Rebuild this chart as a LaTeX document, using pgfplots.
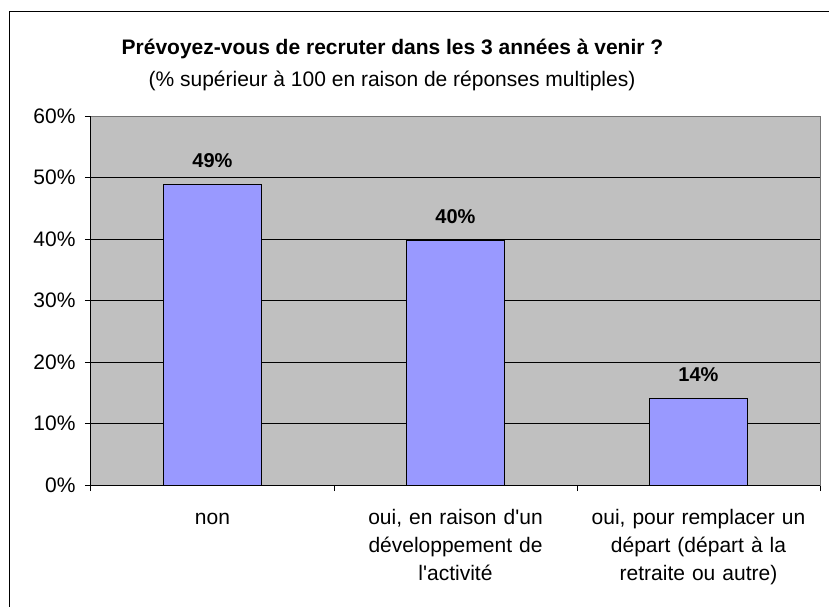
\documentclass[border=0pt]{standalone}
\usepackage{pgfplots}
\pgfplotsset{compat=1.18}
\usepackage{fontspec}
\setmainfont{Liberation Sans}
\newfontfamily\straight{Liberation Sans}
\definecolor{plotbg}{HTML}{C0C0C0}
\definecolor{barblue}{HTML}{9999FF}
\begin{document}
\begin{tikzpicture}[x=1pt,y=1pt]
\useasboundingbox (-91,-121) rectangle (738,485);
\draw[black,line width=1pt] (-81,-130) -- (-81,473) -- (750,473);
\node[anchor=base,font=\fontsize{21}{24}\selectfont\bfseries] at (301.5,430) {Prévoyez-vous de recruter dans les 3 années à venir ?};
\node[anchor=base,font=\fontsize{21}{24}\selectfont] at (301,398) {(\% supérieur à 100 en raison de réponses multiples)};
\begin{axis}[at={(0,0)},anchor=south west,
  scale only axis,width=729pt,height=369pt,
  xmin=-0.5,xmax=2.5,ymin=0,ymax=60,
  axis background/.style={fill=plotbg},
  axis line style={draw=gray!90!black,line width=1pt},
  ytick={0,10,20,30,40,50,60},
  yticklabel={\pgfmathprintnumber{\tick}\%},
  xtick={-0.5,0.5,1.5,2.5},
  x tick label as interval=true,
  xticklabels={\strut non,{\strut oui, en raison d{\straight'}un\\développement de\\l{\straight'}activité},{\strut oui, pour remplacer un\\départ (départ à la\\retraite ou autre)}},
  xticklabel style={align=center,text width=240pt,font=\fontsize{21}{28}\selectfont,yshift=-10pt},
  yticklabel style={font=\fontsize{21}{24}\selectfont,xshift=-6pt},
  /pgf/number format/assume math mode=true,
  tick pos=left,tick align=outside,major tick length=6pt,
  tick style={black,line width=1pt},
  ymajorgrids,grid style={black,line width=0.8pt},
  ybar,bar width=0.4,
  nodes near coords={\pgfmathprintnumber[fixed,precision=0]{\pgfplotspointmeta}\%},
  nodes near coords style={font=\fontsize{20}{24}\selectfont\bfseries,yshift=13pt},
  clip=false]
\addplot[fill=barblue,draw=black,line width=1pt] coordinates {(0,48.8) (1,39.8) (2,14.0)};
\draw[black,line width=1pt] (rel axis cs:0,1) -- (rel axis cs:0,0) -- (rel axis cs:1,0);
\end{axis}
\end{tikzpicture}
\end{document}
